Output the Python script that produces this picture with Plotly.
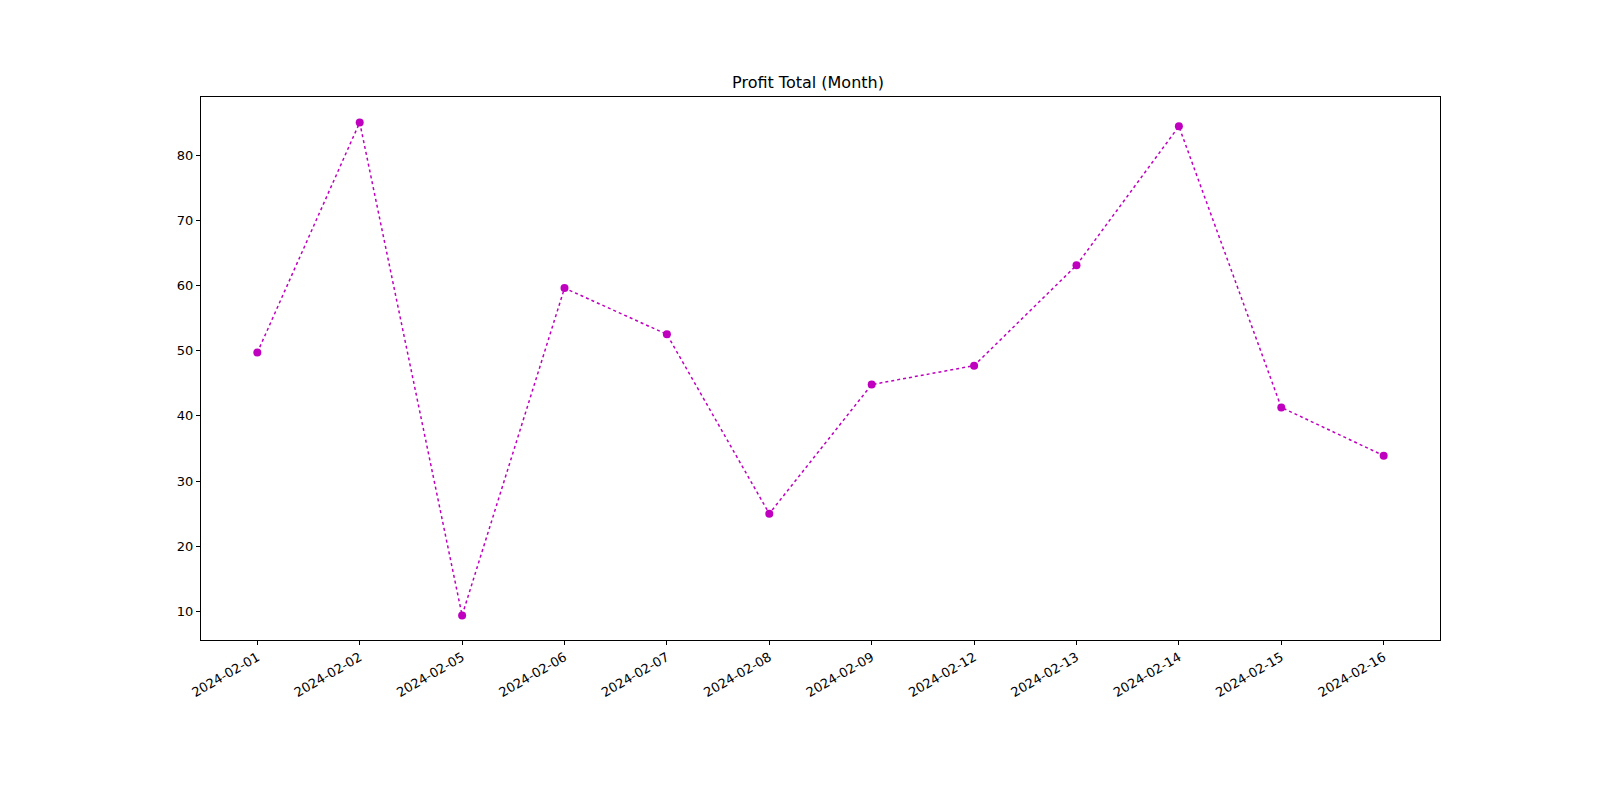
import plotly.graph_objects as go

dates = ["2024-02-01", "2024-02-02", "2024-02-05", "2024-02-06", "2024-02-07", "2024-02-08",
         "2024-02-09", "2024-02-12", "2024-02-13", "2024-02-14", "2024-02-15", "2024-02-16"]
profit = [49.7, 85.0, 9.4, 59.6, 52.5, 25.0, 44.8, 47.7, 63.1, 84.4, 41.3, 33.9]

fig = go.Figure(go.Scatter(
    x=dates, y=profit, mode="lines+markers",
    line=dict(color="#bf00bf", width=1.5, dash="dot"),
    marker=dict(color="#bf00bf", size=8),
))

axis = dict(showline=True, linecolor="black", linewidth=1, mirror=True,
            ticks="outside", ticklen=4, tickcolor="black", showgrid=False,
            zeroline=False, tickfont=dict(size=13, color="black"))

fig.update_layout(
    width=1600, height=800,
    plot_bgcolor="white", paper_bgcolor="white",
    font=dict(family="DejaVu Sans", color="black"),
    title=dict(text="Profit Total (Month)", x=0.5, xanchor="center", y=0.9, yanchor="bottom",
               font=dict(size=16)),
    margin=dict(l=193, r=168, t=89, b=168),
    showlegend=False,
    xaxis=dict(type="category", range=[-0.55, 11.55], tickangle=-30, **axis),
    yaxis=dict(range=[5.63, 88.9], tickvals=[10, 20, 30, 40, 50, 60, 70, 80], **axis),
)

fig.write_html("out.html")
